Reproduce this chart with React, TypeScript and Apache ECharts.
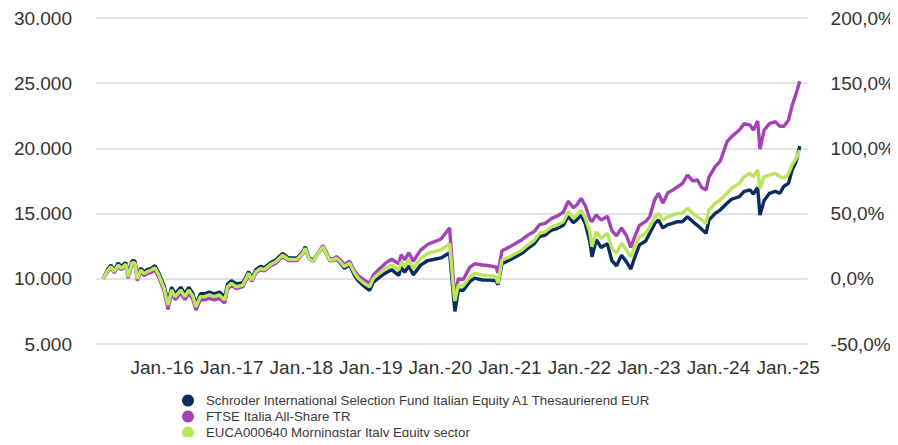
import React, { useEffect, useRef } from 'react';
import * as echarts from 'echarts';

const seriesNames = [
  'Schroder International Selection Fund Italian Equity A1 Thesaurierend EUR',
  'FTSE Italia All-Share TR',
  'EUCA000640 Morningstar Italy Equity sector',
];

const dates = [
  '2015-02-25', '2015-03-20', '2015-04-08', '2015-04-25', '2015-05-15', '2015-06-01', '2015-06-25', '2015-07-07',
  '2015-07-28', '2015-08-12', '2015-08-24', '2015-09-10', '2015-09-29', '2015-10-15', '2015-11-05', '2015-11-25',
  '2015-12-15', '2016-01-12', '2016-02-01', '2016-02-20', '2016-03-10', '2016-04-08', '2016-04-30', '2016-05-20',
  '2016-06-10', '2016-06-27', '2016-07-20', '2016-08-10', '2016-09-05', '2016-09-30', '2016-10-28', '2016-11-25',
  '2016-12-10', '2016-12-30', '2017-01-25', '2017-02-28', '2017-03-31', '2017-04-15', '2017-05-08', '2017-06-01',
  '2017-06-20', '2017-07-25', '2017-08-20', '2017-09-25', '2017-10-25', '2017-12-10', '2018-01-08', '2018-01-22',
  '2018-02-10', '2018-03-05', '2018-03-25', '2018-04-25', '2018-05-30', '2018-06-20', '2018-07-05', '2018-07-25',
  '2018-08-15', '2018-09-12', '2018-10-08', '2018-10-27', '2018-11-28', '2018-12-26', '2019-01-15', '2019-02-15',
  '2019-03-20', '2019-04-20', '2019-05-28', '2019-06-10', '2019-06-28', '2019-07-20', '2019-08-12', '2019-09-20',
  '2019-10-28', '2019-12-02', '2020-01-05', '2020-02-19', '2020-03-12', '2020-03-18', '2020-04-05', '2020-04-30',
  '2020-06-05', '2020-06-30', '2020-08-10', '2020-09-15', '2020-10-20', '2020-10-30', '2020-11-20', '2020-12-31',
  '2021-02-01', '2021-03-05', '2021-04-05', '2021-05-10', '2021-06-05', '2021-07-05', '2021-08-08', '2021-09-05',
  '2021-10-08', '2021-11-03', '2021-11-30', '2021-12-20', '2022-01-10', '2022-02-01', '2022-02-24', '2022-03-08',
  '2022-03-30', '2022-04-25', '2022-05-28', '2022-06-20', '2022-07-15', '2022-08-10', '2022-09-05', '2022-09-28',
  '2022-10-15', '2022-11-12', '2022-12-15', '2023-01-05', '2023-02-01', '2023-02-20', '2023-03-15', '2023-04-10',
  '2023-05-05', '2023-06-01', '2023-06-25', '2023-07-22', '2023-08-20', '2023-09-12', '2023-10-05', '2023-10-28',
  '2023-11-12', '2023-12-15', '2024-01-10', '2024-02-15', '2024-03-10', '2024-04-20', '2024-05-15', '2024-06-15',
  '2024-07-02', '2024-07-25', '2024-08-06', '2024-08-28', '2024-09-25', '2024-10-25', '2024-11-18', '2024-12-10',
  '2025-01-03', '2025-01-22', '2025-02-12', '2025-03-03',
];

const fundValues = [
  10000, 10700, 11050, 10650, 11200, 10950, 11250, 10300,
  11400, 11350, 10150, 10800, 10550, 10700, 10800, 11000,
  10450, 9450, 8220, 9350, 8850, 9350, 8850, 9350,
  8900, 8050, 8850, 8850, 8980, 8850, 8980, 8600,
  9600, 9850, 9600, 9700, 10550, 10050, 10700, 10950,
  10850, 11250, 11450, 11950, 11600, 11600, 12050, 12450,
  11650, 11400, 11850, 12450, 11400, 11400, 11500, 11220,
  10800, 11050, 10250, 9850, 9420, 9120, 9750, 10100,
  10450, 10700, 10250, 10900, 10500, 11000, 10300, 11050,
  11400, 11500, 11600, 12000, 8400, 7500, 9150, 9100,
  9800, 10050, 9910, 9900, 9850, 9550, 11150, 11450,
  11690, 11950, 12330, 12700, 13230, 13350, 13740, 13850,
  14100, 14800, 14300, 14550, 14890, 14200, 12900, 11690,
  13000, 12400, 12700, 11400, 11000, 11800, 11300, 10750,
  11500, 12600, 12900, 13490, 14250, 14510, 13900, 14150,
  14250, 14380, 14380, 14760, 14380, 14100, 13800, 13490,
  14500, 15020, 15270, 15790, 16100, 16300, 16700, 16810,
  16500, 17000, 14890, 16000, 16560, 16700, 16560, 17100,
  17320, 18340, 19000, 20180,
];

const indexValues = [
  10000, 10500, 10850, 10450, 10950, 10700, 11000, 10050,
  11150, 11100, 9850, 10550, 10250, 10400, 10500, 10680,
  10100, 9050, 7650, 8900, 8400, 8900, 8400, 8900,
  8450, 7600, 8400, 8380, 8500, 8380, 8500, 8150,
  9200, 9500, 9250, 9400, 10300, 9800, 10450, 10700,
  10600, 11000, 11200, 11700, 11400, 11400, 11900, 12300,
  11550, 11300, 11850, 12550, 11550, 11550, 11700, 11450,
  11100, 11350, 10600, 10250, 9900, 9650, 10300, 10750,
  11200, 11500, 11150, 11850, 11450, 12000, 11350, 12200,
  12650, 12850, 13050, 13900, 9500, 8700, 10000, 9950,
  10900, 11150, 11060, 11000, 10900, 10450, 12150, 12450,
  12720, 13000, 13350, 13650, 14150, 14250, 14640, 14800,
  15100, 15950, 15450, 15700, 16170, 15600, 14600, 14380,
  14900, 14500, 14800, 13700, 13300, 13900, 13300, 12400,
  13100, 14100, 14400, 14760, 16100, 16560, 15800, 16600,
  16800, 17060, 17300, 17960, 17500, 17580, 17000, 16810,
  17800, 18600, 19000, 20510, 20900, 21410, 21900, 21790,
  21400, 22100, 19950, 21400, 21900, 22050, 21700, 21700,
  22180, 23300, 24200, 25150,
];

const sectorValues = [
  10000, 10600, 10930, 10550, 11060, 10800, 11110, 10160,
  11260, 11200, 10000, 10675, 10400, 10550, 10675, 10850,
  10290, 9270, 7990, 9140, 8630, 9140, 8630, 9140,
  8700, 7860, 8630, 8630, 8760, 8630, 8760, 8370,
  9390, 9650, 9390, 9520, 10420, 9910, 10550, 10800,
  10700, 11110, 11310, 11820, 11490, 11490, 11950, 12340,
  11570, 11310, 11820, 12460, 11440, 11440, 11570, 11310,
  10930, 11190, 10420, 10040, 9650, 9390, 10040, 10420,
  10800, 11060, 10675, 11310, 10930, 11440, 10800, 11570,
  11950, 12080, 12210, 12700, 9000, 8300, 9520, 9450,
  10160, 10420, 10290, 10240, 10160, 9650, 11440, 11690,
  11950, 12210, 12590, 12970, 13490, 13610, 14000, 14125,
  14380, 15150, 14640, 14890, 15280, 14640, 13610, 12460,
  13610, 13100, 13490, 12340, 11950, 12720, 12210, 11690,
  12340, 13230, 13490, 14000, 14760, 15020, 14510, 14760,
  14890, 15020, 15020, 15400, 15020, 14760, 14510, 14250,
  15280, 15790, 16040, 16560, 16940, 17320, 17830, 18090,
  17830, 18340, 16940, 17830, 17960, 18090, 17830, 17710,
  18090, 18730, 19240, 19880,
];

const leftTicks = { min: 5000, max: 30000, interval: 5000 };
const rightTicks = { min: -50, max: 200, interval: 50 };
const colors = ['#0a2d5e', '#a443b7', '#bde55c'];

const FONT = '"Liberation Sans", Arial, sans-serif';

export default function App() {
  const ref = useRef<HTMLDivElement>(null);
  useEffect(() => {
    if (!ref.current) return;
    const chart = echarts.init(ref.current, null, { renderer: 'svg' });
    const valueSets = [fundValues, indexValues, sectorValues];
    const fmtThousands = (v: number) => {
      const s = String(Math.round(v));
      return s.replace(/\B(?=(\d{3})+(?!\d))/g, '.');
    };
    chart.setOption({
      animation: false,
      color: colors,
      textStyle: { fontFamily: FONT },
      grid: { left: 96, right: 90, top: 18, bottom: 101 },
      legend: {
        orient: 'vertical',
        left: 182,
        top: 394,
        height: 120,
        padding: 0,
        icon: 'circle',
        itemWidth: 26,
        itemHeight: 12,
        itemGap: 3,
        textStyle: { fontSize: 13.3, color: '#3a3a3a', fontFamily: FONT },
        data: seriesNames,
      },
      xAxis: {
        type: 'time',
        min: '2015-01-19',
        max: '2025-04-13',
        minInterval: 365 * 24 * 3600 * 1000,
        maxInterval: 366 * 24 * 3600 * 1000,
        splitNumber: 10,
        axisLine: { show: false },
        axisTick: { show: false },
        splitLine: { show: false },
        axisLabel: {
          fontSize: 19,
          color: '#333',
          margin: 14,
          hideOverlap: false,
          formatter: (val: number) => {
            const d = new Date(val);
            if (d.getMonth() === 0 && d.getDate() === 1) {
              return 'Jan.-' + String(d.getFullYear()).slice(2);
            }
            return '';
          },
        },
      },
      yAxis: [
        {
          type: 'value',
          position: 'left',
          min: leftTicks.min,
          max: leftTicks.max,
          interval: leftTicks.interval,
          axisLine: { show: false },
          axisTick: { show: false },
          splitLine: { lineStyle: { color: '#e2e2e2', width: 2 } },
          axisLabel: { fontSize: 19, color: '#333', margin: 24, formatter: fmtThousands },
        },
        {
          type: 'value',
          position: 'right',
          min: rightTicks.min,
          max: rightTicks.max,
          interval: rightTicks.interval,
          axisLine: { show: false },
          axisTick: { show: false },
          splitLine: { show: false },
          axisLabel: {
            fontSize: 19,
            color: '#333',
            margin: 23,
            formatter: (v: number) => v.toFixed(1).replace('.', ',') + '%',
          },
        },
      ],
      series: seriesNames.map((name, i) => ({
        name,
        type: 'line',
        yAxisIndex: 0,
        showSymbol: false,
        symbol: 'none',
        lineStyle: { width: 3.4, color: colors[i] },
        itemStyle: { color: colors[i] },
        z: [2, 3, 4][i],
        data: dates.map((d, j) => [d, valueSets[i][j]]),
      })),
    });
    return () => chart.dispose();
  }, []);
  return <div ref={ref} style={{ width: 898, height: 445, margin: -8 }} />;
}
